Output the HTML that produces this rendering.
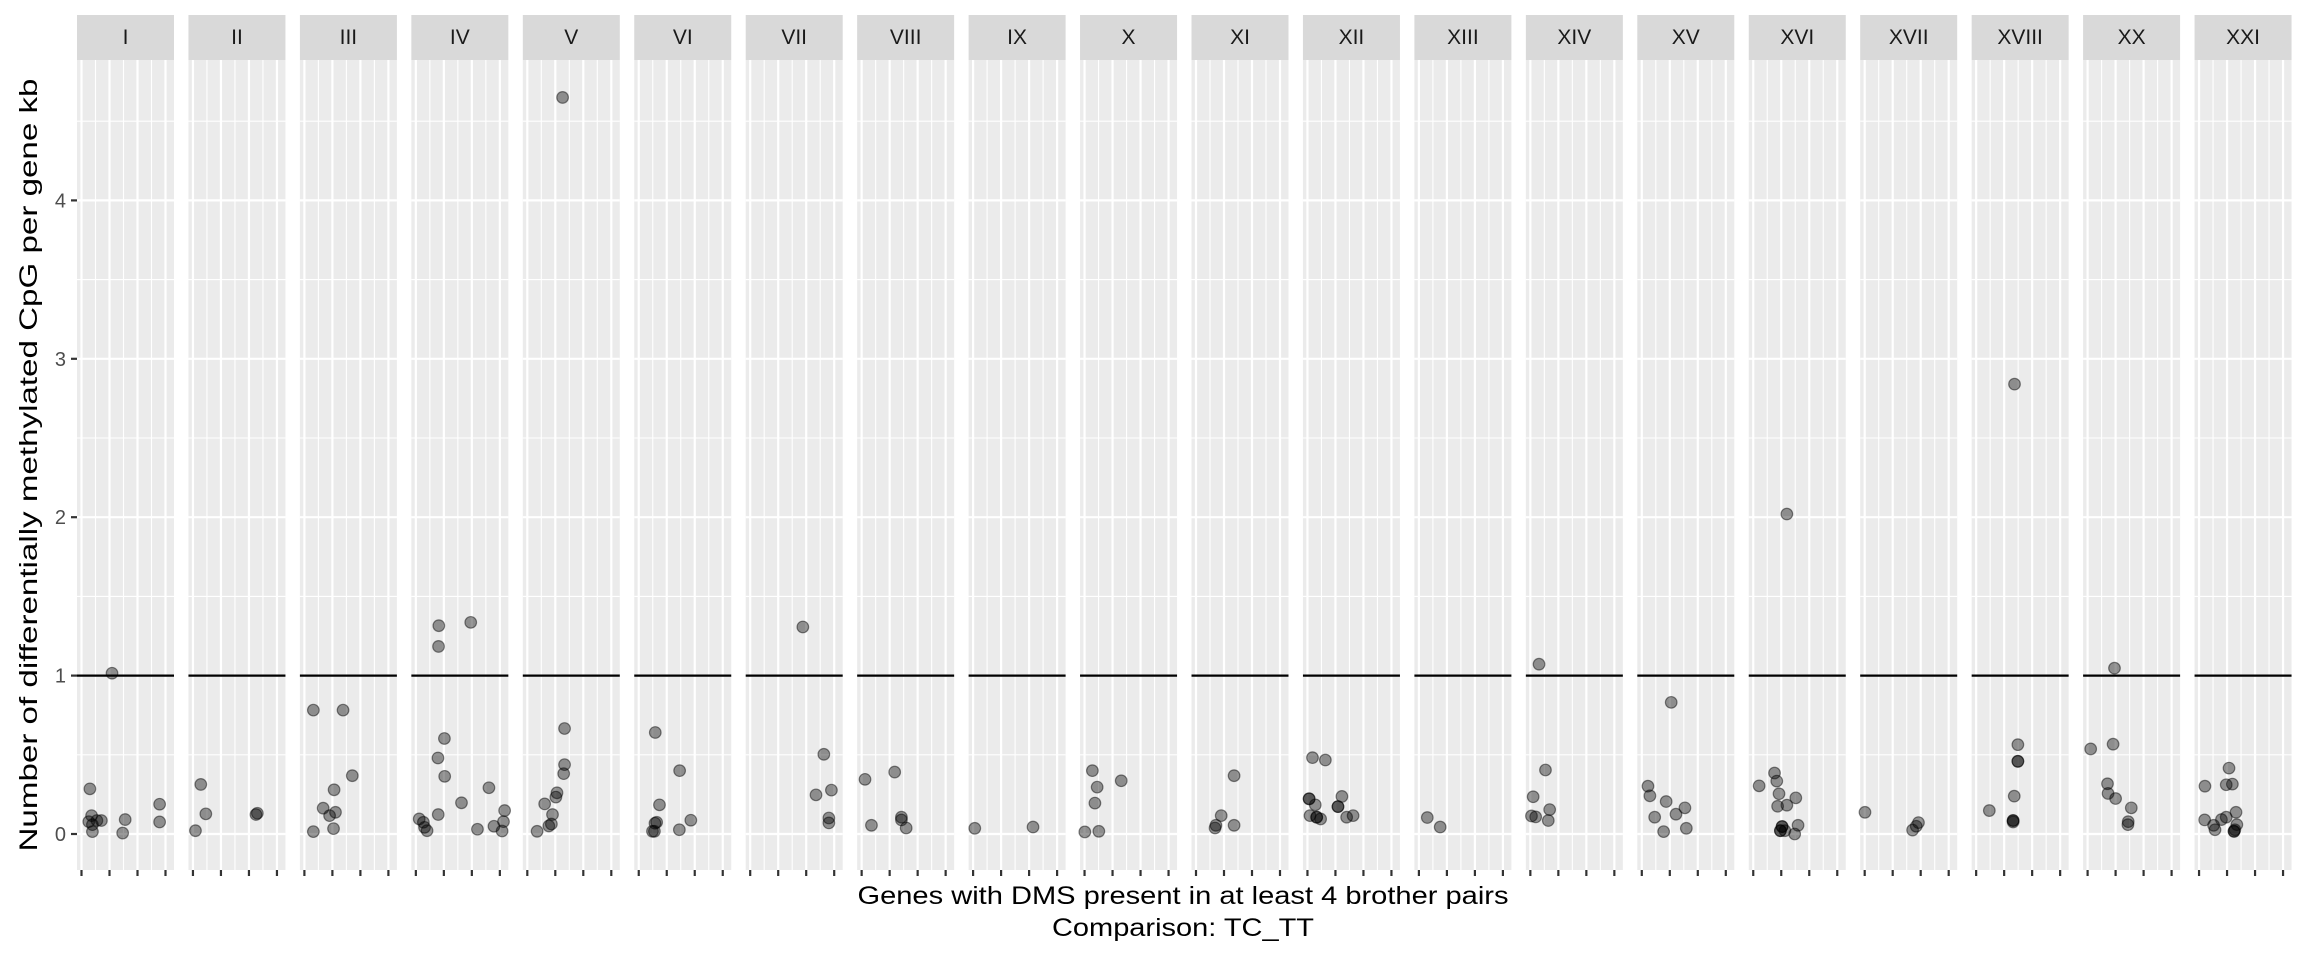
<!DOCTYPE html>
<html><head><meta charset="utf-8"><style>
html,body{margin:0;padding:0;background:#fff;}
svg{display:block;font-family:"Liberation Sans",Arial,sans-serif;}
</style></head><body>
<svg id="chart" width="2304" height="960" viewBox="0 0 2304 960" xmlns="http://www.w3.org/2000/svg">
<rect x="0" y="0" width="2304" height="960" fill="#fff"/>
<g id="panels"></g>
<g id="yaxis"></g>
<text x="0" y="0" transform="translate(37,465) rotate(-90)" text-anchor="middle" font-size="25" fill="#000" textLength="773" lengthAdjust="spacingAndGlyphs">Number of differentially methylated CpG per gene kb</text>
<text x="1183" y="904" text-anchor="middle" font-size="25" fill="#000" textLength="651" lengthAdjust="spacingAndGlyphs">Genes with DMS present in at least 4 brother pairs</text>
<text x="1183" y="936" text-anchor="middle" font-size="25" fill="#000" textLength="262" lengthAdjust="spacingAndGlyphs">Comparison: TC_TT</text>
</svg>
<script>
const panelNames = ["I","II","III","IV","V","VI","VII","VIII","IX","X","XI","XII","XIII","XIV","XV","XVI","XVII","XVIII","XX","XXI"];
const yTicks = [0,1,2,3,4];
const yTickLabels = ["0","1","2","3","4"];
const xTicks = [1,2,3,4];
const refLine = 1;
const pointsX = [
 [1.30,1.36,1.26,1.39,1.39,1.55,1.71,2.09,2.56,2.47,3.79,3.79],
 [1.28,1.46,1.09,3.25,3.30],
 [1.32,2.38,2.71,2.06,1.67,2.11,1.90,2.04,1.32],
 [1.82,2.96,1.81,2.02,1.79,2.03,3.61,2.63,1.80,1.12,1.27,1.31,1.40,3.20,3.79,4.17,4.13,4.08],
 [2.26,2.33,2.33,2.30,2.06,2.02,1.62,1.90,1.86,1.77,1.35],
 [1.59,2.46,1.74,1.64,1.58,1.49,1.56,2.45,2.86],
 [2.88,3.63,3.35,3.90,3.81,3.81],
 [1.12,2.18,1.35,2.42,2.42,2.59],
 [1.06,3.14],
 [1.28,1.45,1.37,1.01,1.51,2.31],
 [2.36,1.90,1.71,1.68,2.36],
 [1.18,1.64,1.06,1.06,1.28,1.09,1.33,1.33,1.47,2.23,2.09,2.09,2.40,2.63],
 [1.30,1.76],
 [1.31,1.54,1.10,1.69,1.04,1.19,1.64],
 [2.05,1.22,1.29,1.87,2.54,2.22,1.46,2.59,1.78],
 [2.20,1.76,1.84,1.21,1.92,2.52,1.87,2.20,2.60,2.03,2.03,1.97,1.97,2.13,2.48],
 [1.01,2.92,2.84,2.71],
 [2.37,2.49,2.49,2.49,2.36,1.47,2.32,2.32,2.32],
 [1.96,1.11,1.91,1.71,1.73,2.00,2.56,2.45,2.44],
 [2.07,1.21,1.97,2.19,1.20,1.52,1.57,1.80,1.97,2.32,2.35,2.28,2.25,2.25]
];
const pointsY = [
 [0.285,0.116,0.078,0.059,0.015,0.085,0.085,1.015,0.091,0.006,0.188,0.076],
 [0.313,0.127,0.021,0.123,0.131],
 [0.782,0.782,0.368,0.279,0.163,0.137,0.116,0.034,0.015],
 [1.315,1.336,1.184,0.603,0.480,0.364,0.292,0.197,0.123,0.095,0.074,0.042,0.021,0.030,0.049,0.148,0.078,0.019],
 [4.65,0.666,0.438,0.381,0.260,0.233,0.190,0.123,0.063,0.051,0.017],
 [0.641,0.400,0.184,0.074,0.068,0.017,0.017,0.027,0.087],
 [1.307,0.503,0.247,0.277,0.101,0.070],
 [0.345,0.391,0.055,0.106,0.089,0.038],
 [0.036,0.044],
 [0.400,0.296,0.195,0.013,0.017,0.336],
 [0.368,0.116,0.055,0.038,0.055],
 [0.482,0.467,0.222,0.222,0.184,0.116,0.106,0.106,0.095,0.237,0.173,0.173,0.106,0.116],
 [0.104,0.044],
 [1.072,0.404,0.235,0.154,0.114,0.108,0.085],
 [0.831,0.302,0.241,0.205,0.165,0.125,0.106,0.036,0.015],
 [2.02,0.385,0.334,0.304,0.254,0.228,0.175,0.182,0.055,0.047,0.047,0.021,0.021,0.021,0.0],
 [0.137,0.072,0.049,0.025],
 [2.84,0.564,0.459,0.459,0.239,0.148,0.085,0.085,0.076],
 [1.047,0.537,0.567,0.317,0.256,0.224,0.165,0.078,0.059],
 [0.416,0.302,0.311,0.315,0.089,0.055,0.027,0.091,0.106,0.137,0.059,0.027,0.017,0.017]
];

const NS = "http://www.w3.org/2000/svg";
const P0 = 77, PITCH = 111.45, PW = 97, PTOP = 60, PBOT = 870, STRIPTOP = 15;
const Y0 = 834, YK = 158.4;
function yScale(v){ return Y0 - v*YK; }
function xScale(i, v){ return P0 + i*PITCH + 4.5 + (v-1)*28; }
function mk(tag, attrs, parent){
  const e = document.createElementNS(NS, tag);
  for (const k in attrs) e.setAttribute(k, attrs[k]);
  parent.appendChild(e); return e;
}
const panelsG = document.getElementById('panels');
panelNames.forEach((name, i) => {
  const left = P0 + i*PITCH;
  const g = mk('g', {}, panelsG);
  
  
  const bg = mk('rect', {x:left, y:PTOP, width:PW, height:PBOT-PTOP, fill:'#ebebeb'}, g);
  
  
  yTicks.forEach(t => {
    const yv = yScale(t+0.5);
    if (yv > PTOP) mk('line', {x1:left, x2:left+PW, y1:yv, y2:yv, stroke:'#fff', 'stroke-width':1.1}, g);
  });
  xTicks.forEach(t => {
    const xv = xScale(i, t+0.5);
    if (xv < left+PW) mk('line', {x1:xv, x2:xv, y1:PTOP, y2:PBOT, stroke:'#fff', 'stroke-width':1.1}, g);
  });
  yTicks.forEach(t => {
    const yv = yScale(t);
    mk('line', {x1:left, x2:left+PW, y1:yv, y2:yv, stroke:'#fff', 'stroke-width':2.2}, g);
  });
  xTicks.forEach(t => {
    const xv = xScale(i, t);
    mk('line', {x1:xv, x2:xv, y1:PTOP, y2:PBOT, stroke:'#fff', 'stroke-width':2.2}, g);
    const tk = mk('line', {x1:xv, x2:xv, y1:PBOT, y2:PBOT+6, stroke:'#333', 'stroke-width':2.2}, g);
    
    
  });
  const ry = yScale(refLine);
  const rl = mk('line', {x1:left, x2:left+PW, y1:ry, y2:ry, stroke:'#000', 'stroke-width':2.2}, g);
  
  
  const strip = mk('rect', {x:left, y:STRIPTOP, width:PW, height:PTOP-STRIPTOP, fill:'#d9d9d9'}, g);
  
  
  const st = mk('text', {x:left+PW/2, y:44, 'text-anchor':'middle', 'font-size':21, fill:'#1a1a1a'}, g);
  st.textContent = name;
  
  
  pointsX[i].forEach((xv, j) => {
    const c = mk('circle', {cx:xScale(i, xv), cy:yScale(pointsY[i][j]), r:5.8, fill:'rgba(0,0,0,0.4)', stroke:'rgba(0,0,0,0.45)', 'stroke-width':1.2}, g);
    
    
  });
});
const yg = document.getElementById('yaxis');
yTicks.forEach((t, k) => {
  const yv = yScale(t);
  const tk = mk('line', {x1:71, x2:77, y1:yv, y2:yv, stroke:'#333', 'stroke-width':2.2}, yg);
  
  
  const lb = mk('text', {x:66, y:yv+7, 'text-anchor':'end', 'font-size':20, fill:'#4d4d4d'}, yg);
  lb.textContent = yTickLabels[k];
  
  
});
</script>
</body></html>
